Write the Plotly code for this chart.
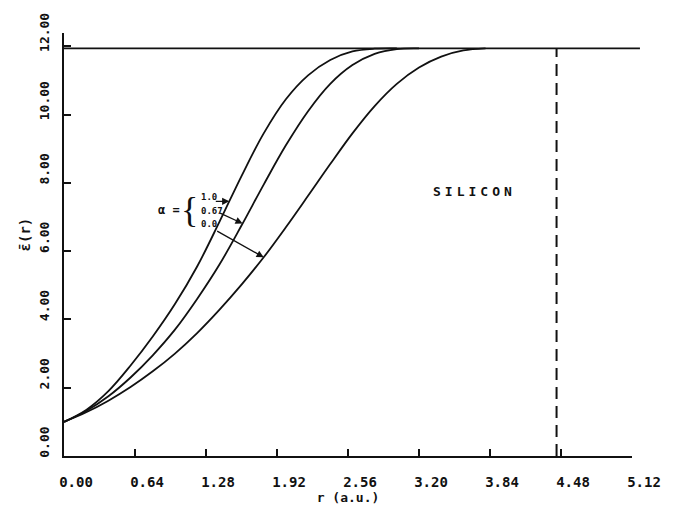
import plotly.graph_objects as go

# Average dielectric function of silicon vs. radius for three alpha values
R_ALPHA_10 = [0, 0.2, 0.4, 0.6, 0.8, 1.0, 1.2, 1.4, 1.6, 1.8, 2.0, 2.2, 2.4, 2.6, 2.8, 3.0]
EPS_ALPHA_10 = [1.0, 1.35, 1.9, 2.65, 3.5, 4.45, 5.55, 6.85, 8.2, 9.45, 10.45, 11.15, 11.6, 11.85, 11.93, 11.94]

R_ALPHA_067 = [0, 0.2, 0.4, 0.6, 0.8, 1.0, 1.2, 1.4, 1.6, 1.8, 2.0, 2.2, 2.4, 2.6, 2.8, 3.0, 3.2]
EPS_ALPHA_067 = [1.0, 1.32, 1.75, 2.3, 2.95, 3.7, 4.6, 5.6, 6.75, 7.95, 9.1, 10.1, 10.9, 11.45, 11.78, 11.92, 11.94]

R_ALPHA_00 = [0, 0.2, 0.4, 0.6, 0.8, 1.0, 1.2, 1.4, 1.6, 1.8, 2.0, 2.2, 2.4, 2.6, 2.8, 3.0, 3.2, 3.4, 3.6, 3.8]
EPS_ALPHA_00 = [1.0, 1.28, 1.62, 2.02, 2.48, 3.0, 3.6, 4.28, 5.02, 5.82, 6.7, 7.62, 8.55, 9.45, 10.25, 10.9, 11.38, 11.7, 11.88, 11.94]

EPS_SILICON = 11.94      # bulk dielectric constant
R_CUTOFF = 4.44          # dashed marker radius (a.u.)

X_TICKS = [0.00, 0.64, 1.28, 1.92, 2.56, 3.20, 3.84, 4.48, 5.12]
Y_TICKS = [0, 2, 4, 6, 8, 10, 12]

ALPHA_LABELS = ["1.0", "0.67", "0.0"]
# arrow tips on each curve (r, eps)
ARROW_TIPS = [(1.49, 7.46), (1.61, 6.81), (1.8, 5.82)]

FONT = "DejaVu Sans Mono"
BLACK = "#111111"

fig = go.Figure()

for r, e in [(R_ALPHA_10, EPS_ALPHA_10), (R_ALPHA_067, EPS_ALPHA_067), (R_ALPHA_00, EPS_ALPHA_00)]:
    fig.add_trace(go.Scatter(x=r, y=e, mode="lines",
                             line=dict(color=BLACK, width=1.8, shape="spline", smoothing=1.0),
                             showlegend=False, hoverinfo="skip"))

# cutoff radius
fig.add_trace(go.Scatter(x=[R_CUTOFF, R_CUTOFF], y=[0, EPS_SILICON], mode="lines",
                         line=dict(color=BLACK, width=2, dash="12px,7px"),
                         showlegend=False, hoverinfo="skip"))

# bulk limit, running slightly past the last tick
fig.add_shape(type="line", xref="paper", yref="y", x0=0, x1=1.014,
              y0=EPS_SILICON, y1=EPS_SILICON, line=dict(color=BLACK, width=1.8))

annotations = [
    dict(x=3.7, y=7.75, text='<span style="letter-spacing:4px">SILICON</span>', showarrow=False,
         font=dict(family=FONT, size=13, color=BLACK, weight="bold")),
    dict(x=0.95, y=7.2, text="α =", showarrow=False,
         font=dict(family=FONT, size=12, color=BLACK, weight="bold")),
    dict(x=1.13, y=7.2, text="{", showarrow=False, borderpad=0,
         font=dict(family="Liberation Serif", size=36, color=BLACK)),
    dict(xref="paper", yref="y", x=-0.068, y=6.5, xanchor="center", yanchor="middle",
         text="ε̄(r)", textangle=-90, showarrow=False,
         font=dict(family=FONT, size=14, color=BLACK, weight="bold")),
]

label_y = [7.59, 7.17, 6.8]
for lab, ly in zip(ALPHA_LABELS, label_y):
    annotations.append(dict(x=1.215, y=ly, text=lab, xanchor="left", showarrow=False,
                            font=dict(family=FONT, size=9, color=BLACK, weight="bold")))

arrow_offsets = [(-15, 0), (-24, -11), (-48, -27)]
for (tx, ty), (ax, ay) in zip(ARROW_TIPS, arrow_offsets):
    annotations.append(dict(x=tx, y=ty, text="", showarrow=True, ax=ax, ay=ay,
                            arrowhead=2, arrowsize=1.1, arrowwidth=1.3, arrowcolor=BLACK))

fig.update_layout(
    width=673, height=514,
    margin=dict(l=64, r=38, t=33, b=45),
    paper_bgcolor="white", plot_bgcolor="white",
    annotations=annotations,
    xaxis=dict(range=[0, 5.12], tickvals=X_TICKS, ticktext=[f"{v:.2f}" for v in X_TICKS],
               ticks="inside", ticklen=7, tickwidth=1.5, tickcolor=BLACK,
               showline=True, linecolor=BLACK, linewidth=1.8, showgrid=False, zeroline=False,
               ticklabelshift=12, ticklabelstandoff=12,
               tickfont=dict(family=FONT, size=14, color=BLACK, weight="bold"),
               title=dict(text="r (a.u.)", standoff=3,
                          font=dict(family=FONT, size=13, color=BLACK, weight="bold"))),
    yaxis=dict(range=[0, 12.39], tickvals=Y_TICKS, ticktext=[f"{v:.2f}" for v in Y_TICKS],
               ticks="inside", ticklen=7, tickwidth=1.5, tickcolor=BLACK, tickangle=-90,
               showline=True, linecolor=BLACK, linewidth=1.8, showgrid=False, zeroline=False,
               ticklabelshift=-12, ticklabelstandoff=8,
               tickfont=dict(family=FONT, size=13, color=BLACK, weight="bold")),
)

fig.write_html("out.html")
